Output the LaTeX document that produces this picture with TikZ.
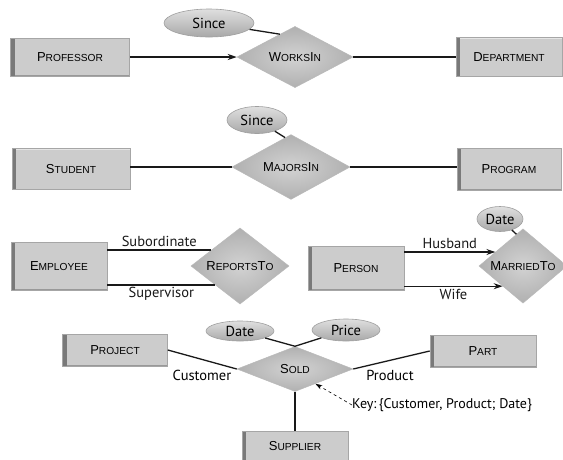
\documentclass[tikz,border=0pt]{standalone}
\usepackage{fontspec}
\setmainfont{PT Sans}
\newfontfamily\entfont{Liberation Sans}
\usetikzlibrary{shapes.geometric,arrows.meta,calc}

% fake small capitals for entity and relationship names
\newcommand\capl[1]{{\fontsize{13}{13}\selectfont #1}}
\newcommand\smcl[1]{{\fontsize{10.2}{10.2}\selectfont #1}}

\tikzset{
  entity/.style={rectangle, draw=gray!70, line width=0.6pt, fill=gray!40,
    inner sep=0pt, font=\entfont,
    path picture={
      \fill[gray!95!black] (path picture bounding box.north west)
        rectangle ([xshift=4pt]path picture bounding box.south west);
      \draw[gray!20, line width=1pt] ([xshift=4pt,yshift=-0.5pt]path picture bounding box.north west)
        -- ([yshift=-0.5pt]path picture bounding box.north east);
      \draw[gray!80, line width=1pt] ([xshift=4pt,yshift=0.5pt]path picture bounding box.south west)
        -- ([yshift=0.5pt]path picture bounding box.south east);
    }},
  relation/.style={diamond, draw=gray!55, line width=0.5pt, inner sep=0pt,
    font=\entfont, inner color=gray!35, outer color=gray!62},
  attrib/.style={ellipse, draw=gray!75, line width=0.6pt, inner sep=0pt,
    top color=gray!25, bottom color=gray!68, font=\fontsize{14.5}{14.5}\selectfont},
  link/.style={line width=1.3pt, black!90},
  role/.style={font=\fontsize{14.5}{14.5}\selectfont, inner sep=0pt},
  tip/.style={-{Stealth[length=9pt,width=6pt]}}
}

\begin{document}
\begin{tikzpicture}[x=1pt,y=-1pt]
\useasboundingbox[fill=white] (0,0) rectangle (563,459);

% ---- Professor works in Department
\node[entity, minimum width=119pt, minimum height=38pt] (prof) at (70,57)
  {\capl{P}\smcl{ROFESSOR}};
\node[relation, minimum width=116pt, minimum height=56pt] (works) at (295,57)
  {\capl{W}\smcl{ORKS}\capl{I}\smcl{N}};
\node[entity, minimum width=106pt, minimum height=39pt] (dept) at (509,57)
  {\capl{D}\smcl{EPARTMENT}};
\node[attrib, minimum width=90pt, minimum height=28pt] (since1) at (209,23) {Since};
\coordinate (w1) at ($(works.west)!0.74!(works.north)$);
\draw[link, tip] (prof.east) -- (works.west);
\draw[link] (works.east) -- (dept.west);
\draw[link] (since1) -- (w1);

% ---- Student majors in Program
\node[entity, minimum width=118pt, minimum height=41pt] (stud) at (71,169)
  {\capl{S}\smcl{TUDENT}};
\node[relation, minimum width=118pt, minimum height=54pt] (majors) at (291,167)
  {\capl{M}\smcl{AJORS}\capl{I}\smcl{N}};
\node[entity, minimum width=104pt, minimum height=42pt] (prog) at (509,169)
  {\capl{P}\smcl{ROGRAM}};
\node[attrib, minimum width=60pt, minimum height=27pt] (since2) at (257,120) {Since};
\coordinate (m1) at ($(majors.west)!0.9!(majors.north)$);
\draw[link] (stud.east |- majors.west) -- (majors.west);
\draw[link] (majors.east) -- (prog.west |- majors.east);
\draw[link] (since2) -- (m1);

% ---- Employee reports to (recursive)
\node[entity, minimum width=96pt, minimum height=48pt] (emp) at (59,266)
  {\capl{E}\smcl{MPLOYEE}};
\node[relation, minimum width=98pt, minimum height=48pt] (reports) at (240,266)
  {\capl{R}\smcl{EPORTS}\capl{T}\smcl{O}};
\coordinate (r1) at ($(reports.west)!0.4167!(reports.north)$);
\coordinate (r2) at ($(reports.west)!0.5!(reports.south)$);
\draw[link] (emp.east |- r1) -- node[role, above=3pt] {Subordinate} (r1);
\draw[link] (emp.east |- r2) -- node[role, below=1pt] {Supervisor} (r2);

% ---- Person married to (recursive)
\node[entity, minimum width=96pt, minimum height=44pt] (pers) at (356,268)
  {\capl{P}\smcl{ERSON}};
\node[relation, minimum width=88pt, minimum height=48pt] (married) at (523,266)
  {\capl{M}\smcl{ARRIED}\capl{T}\smcl{O}};
\node[attrib, minimum width=46pt, minimum height=25pt] (date1) at (500,219) {Date};
\coordinate (p1) at ($(married.west)!0.375!(married.north)$);
\coordinate (p2) at ($(married.west)!0.54!(married.south)$);
\coordinate (p3) at ($(married.west)!0.85!(married.north)$);
\draw[link, tip] (pers.east |- p1) -- node[role, above=3pt] {Husband} (p1);
\draw[link, tip] (pers.east |- p2) -- node[role, below=2pt] {Wife} (p2);
\draw[link] (date1) -- (p3);

% ---- Ternary relationship Sold
\node[entity, minimum width=105pt, minimum height=32pt] (proj) at (115,350)
  {\capl{P}\smcl{ROJECT}};
\node[relation, minimum width=116pt, minimum height=45pt] (sold) at (295,369)
  {\capl{S}\smcl{OLD}};
\node[entity, minimum width=106pt, minimum height=32pt] (part) at (483,351)
  {\capl{P}\smcl{ART}};
\node[entity, minimum width=106pt, minimum height=30pt] (supp) at (295,446)
  {\capl{S}\smcl{UPPLIER}};
\node[attrib, minimum width=68pt, minimum height=20pt] (date2) at (240,331) {Date};
\node[attrib, minimum width=68pt, minimum height=22pt] (price) at (346,330) {Price};
\draw[link] (proj.east) -- (sold.west);
\draw[link] (sold.east) -- (part.west);
\draw[link] (sold.south) -- (supp.north);
\draw[link] (date2) -- (sold.north);
\draw[link] (price) -- (sold.north);
\node[role] (cust) at (202,375) {Customer};
\node[role] (prod) at (390,375) {Product};

\node[role, anchor=west, font=\fontsize{14}{14}\selectfont] (key) at (352,405)
  {Key:\,\{Customer, Product; Date\}};
\coordinate (s1) at ($(sold.east)!0.65!(sold.south)$);
\draw[dashed, line width=0.6pt, -{Stealth[length=7pt,width=4.5pt]}] (key.west) -- (s1);
\end{tikzpicture}
\end{document}
